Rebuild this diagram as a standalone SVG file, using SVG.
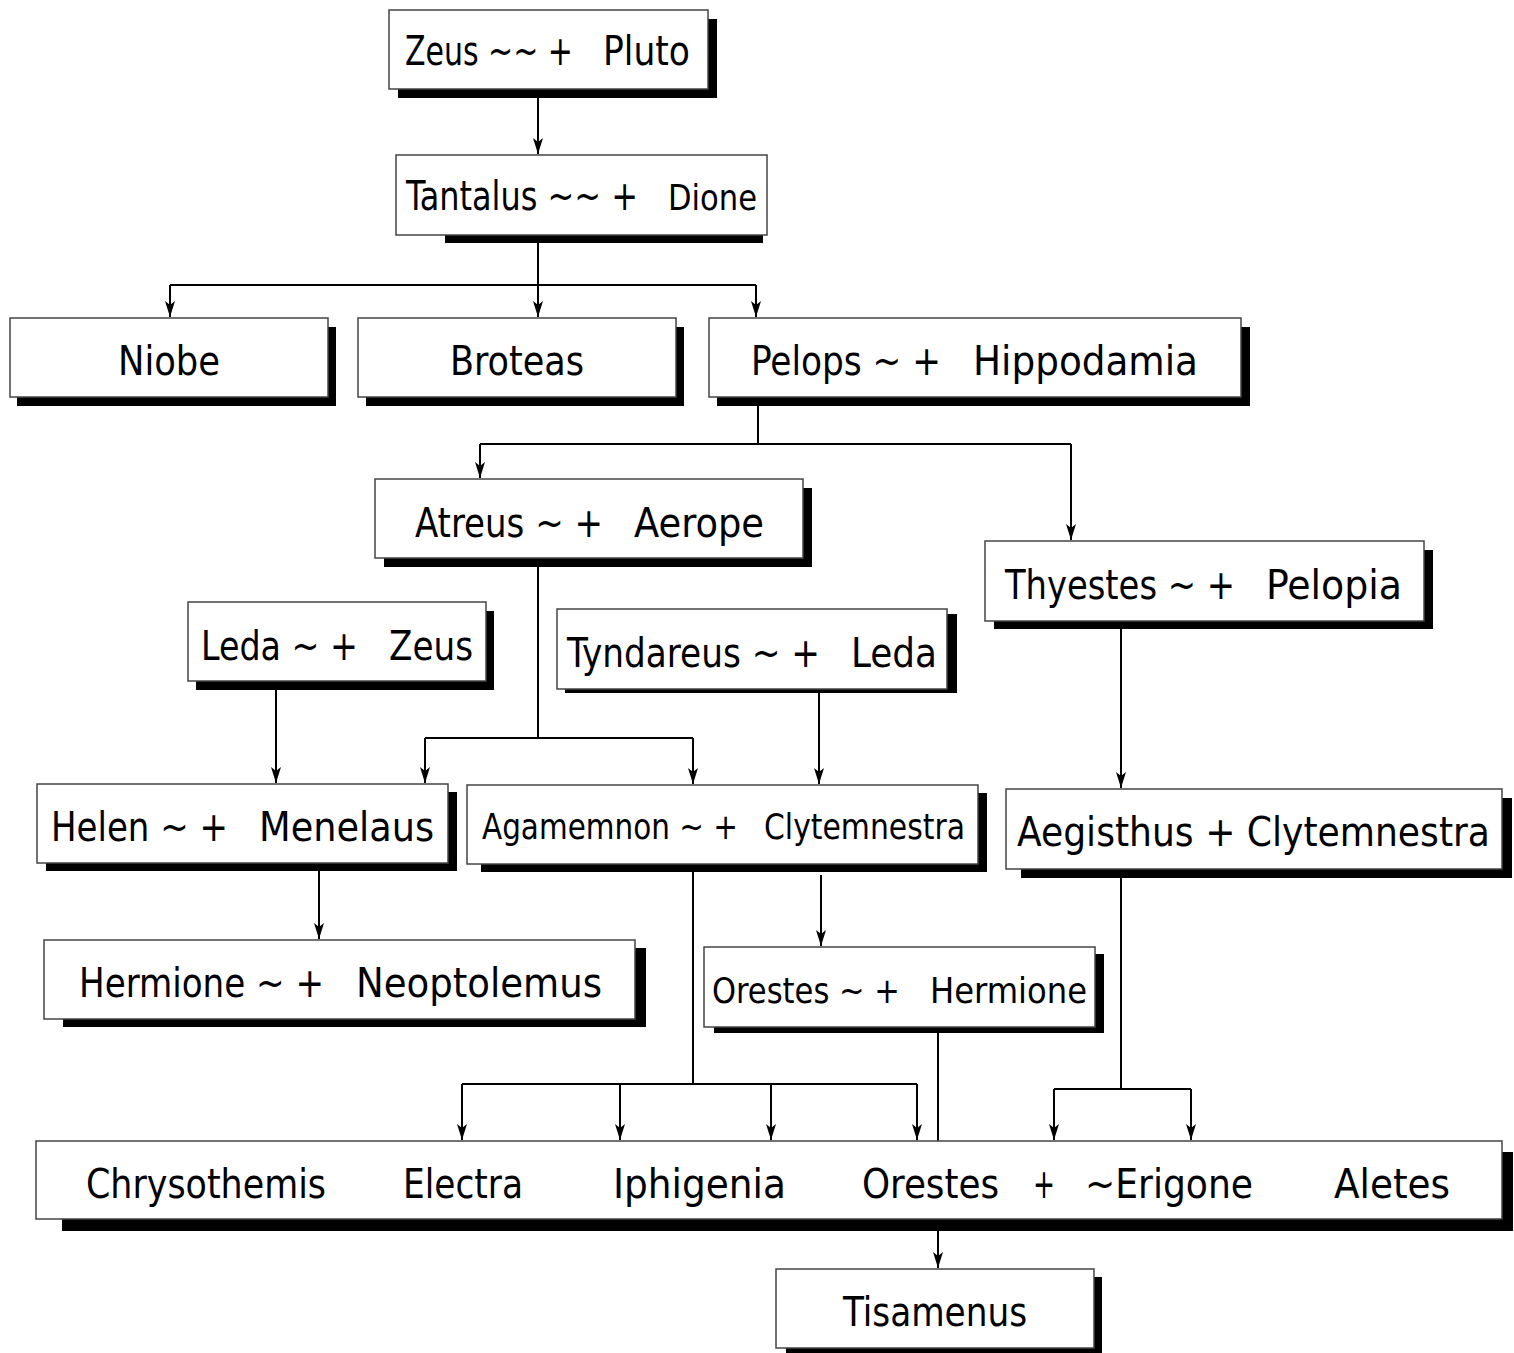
<svg xmlns="http://www.w3.org/2000/svg" width="1514" height="1353" viewBox="0 0 1514 1353">
<style>
.bx{fill:#fff;stroke:#444;stroke-width:1.5}
.sh{fill:#000}
text{font-family:"Liberation Sans Narrow","DejaVu Sans Condensed","Liberation Sans",sans-serif;font-size:40px;fill:#000}
.s{font-size:35px}
.c{fill:none;stroke:#000;stroke-width:2}
</style>
<defs>
<marker id="ah" markerUnits="userSpaceOnUse" markerWidth="17" markerHeight="12" refX="16" refY="5" orient="auto" viewBox="0 0 17 10">
<path d="M0,0 L16,5 L0,10 L4,5 Z" fill="#000"/>
</marker>
</defs>
<rect width="1514" height="1353" fill="#fff"/>
<g id="connectors">
<path class="c" d="M538,89 V154" marker-end="url(#ah)"/>
<path class="c" d="M538,235 V285 M170,285 H756"/>
<path class="c" d="M170,285 V317" marker-end="url(#ah)"/>
<path class="c" d="M538,285 V317" marker-end="url(#ah)"/>
<path class="c" d="M756,285 V317" marker-end="url(#ah)"/>
<path class="c" d="M758,406 V444 M480,444 H1071"/>
<path class="c" d="M480,444 V478" marker-end="url(#ah)"/>
<path class="c" d="M1071,444 V540" marker-end="url(#ah)"/>
<path class="c" d="M538,567 V738 M425,738 H693"/>
<path class="c" d="M425,738 V783" marker-end="url(#ah)"/>
<path class="c" d="M693,738 V784" marker-end="url(#ah)"/>
<path class="c" d="M276,690 V783" marker-end="url(#ah)"/>
<path class="c" d="M819,693 V784" marker-end="url(#ah)"/>
<path class="c" d="M1121,629 V788" marker-end="url(#ah)"/>
<path class="c" d="M319,871 V939" marker-end="url(#ah)"/>
<path class="c" d="M821,875 V946" marker-end="url(#ah)"/>
<path class="c" d="M693,872 V1084 M462,1084 H917"/>
<path class="c" d="M462,1084 V1140" marker-end="url(#ah)"/>
<path class="c" d="M620,1084 V1140" marker-end="url(#ah)"/>
<path class="c" d="M771,1084 V1140" marker-end="url(#ah)"/>
<path class="c" d="M917,1084 V1140" marker-end="url(#ah)"/>
<path class="c" d="M938,1033 V1141"/>
<path class="c" d="M1121,878 V1089 M1054,1089 H1191"/>
<path class="c" d="M1054,1089 V1140" marker-end="url(#ah)"/>
<path class="c" d="M1191,1089 V1140" marker-end="url(#ah)"/>
<path class="c" d="M938,1231 V1268" marker-end="url(#ah)"/>
</g>
<g id="n-zeus-pluto">
<rect class="sh" x="398" y="19" width="319" height="79"/>
<rect class="bx" x="389" y="10" width="319" height="79"/>
<text x="405" y="65" textLength="168" lengthAdjust="spacingAndGlyphs">Zeus ~~ +</text>
<text x="603" y="65" textLength="87" lengthAdjust="spacingAndGlyphs">Pluto</text>
</g>
<g id="n-tantalus-dione">
<rect class="sh" x="445" y="164" width="318" height="79"/>
<rect class="bx" x="396" y="155" width="371" height="80"/>
<text x="406" y="210" textLength="232" lengthAdjust="spacingAndGlyphs">Tantalus ~~ +</text>
<text class="s" x="668" y="210" textLength="89" lengthAdjust="spacingAndGlyphs">Dione</text>
</g>
<g id="n-niobe">
<rect class="sh" x="17" y="327" width="319" height="79"/>
<rect class="bx" x="10" y="318" width="318" height="79"/>
<text x="118" y="375" textLength="102" lengthAdjust="spacingAndGlyphs">Niobe</text>
</g>
<g id="n-broteas">
<rect class="sh" x="366" y="327" width="318" height="79"/>
<rect class="bx" x="358" y="318" width="318" height="79"/>
<text x="450" y="375" textLength="134" lengthAdjust="spacingAndGlyphs">Broteas</text>
</g>
<g id="n-pelops-hippodamia">
<rect class="sh" x="717" y="327" width="533" height="79"/>
<rect class="bx" x="709" y="318" width="532" height="79"/>
<text x="751" y="375" textLength="190" lengthAdjust="spacingAndGlyphs">Pelops ~ +</text>
<text x="973" y="375" textLength="225" lengthAdjust="spacingAndGlyphs">Hippodamia</text>
</g>
<g id="n-atreus-aerope">
<rect class="sh" x="384" y="488" width="428" height="79"/>
<rect class="bx" x="375" y="479" width="428" height="79"/>
<text x="415" y="537" textLength="188" lengthAdjust="spacingAndGlyphs">Atreus ~ +</text>
<text x="634" y="537" textLength="130" lengthAdjust="spacingAndGlyphs">Aerope</text>
</g>
<g id="n-thyestes-pelopia">
<rect class="sh" x="994" y="550" width="439" height="79"/>
<rect class="bx" x="985" y="541" width="439" height="80"/>
<text x="1005" y="599" textLength="230" lengthAdjust="spacingAndGlyphs">Thyestes ~ +</text>
<text x="1266" y="599" textLength="136" lengthAdjust="spacingAndGlyphs">Pelopia</text>
</g>
<g id="n-leda-zeus">
<rect class="sh" x="196" y="611" width="298" height="79"/>
<rect class="bx" x="188" y="602" width="298" height="79"/>
<text x="201" y="660" textLength="157" lengthAdjust="spacingAndGlyphs">Leda ~ +</text>
<text x="389" y="660" textLength="84" lengthAdjust="spacingAndGlyphs">Zeus</text>
</g>
<g id="n-tyndareus-leda">
<rect class="sh" x="565" y="614" width="392" height="79"/>
<rect class="bx" x="557" y="609" width="390" height="80"/>
<text x="567" y="667" textLength="253" lengthAdjust="spacingAndGlyphs">Tyndareus ~ +</text>
<text x="851" y="667" textLength="86" lengthAdjust="spacingAndGlyphs">Leda</text>
</g>
<g id="n-helen-menelaus">
<rect class="sh" x="46" y="792" width="411" height="79"/>
<rect class="bx" x="37" y="784" width="411" height="79"/>
<text x="51" y="841" textLength="177" lengthAdjust="spacingAndGlyphs">Helen ~ +</text>
<text x="259" y="841" textLength="175" lengthAdjust="spacingAndGlyphs">Menelaus</text>
</g>
<g id="n-agamemnon-clytemnestra">
<rect class="sh" x="481" y="793" width="506" height="79"/>
<rect class="bx" x="467" y="785" width="511" height="79"/>
<text class="s" x="482" y="839" textLength="256" lengthAdjust="spacingAndGlyphs">Agamemnon ~ +</text>
<text class="s" x="764" y="839" textLength="201" lengthAdjust="spacingAndGlyphs">Clytemnestra</text>
</g>
<g id="n-aegisthus-clytemnestra">
<rect class="sh" x="1021" y="798" width="491" height="80"/>
<rect class="bx" x="1006" y="789" width="496" height="80"/>
<text x="1017" y="846" textLength="473" lengthAdjust="spacingAndGlyphs">Aegisthus + Clytemnestra</text>
</g>
<g id="n-hermione-neoptolemus">
<rect class="sh" x="63" y="948" width="583" height="79"/>
<rect class="bx" x="44" y="940" width="591" height="79"/>
<text x="79" y="997" textLength="245" lengthAdjust="spacingAndGlyphs">Hermione ~ +</text>
<text x="356" y="997" textLength="246" lengthAdjust="spacingAndGlyphs">Neoptolemus</text>
</g>
<g id="n-orestes-hermione">
<rect class="sh" x="714" y="954" width="390" height="79"/>
<rect class="bx" x="704" y="947" width="391" height="80"/>
<text class="s" x="712" y="1003" textLength="188" lengthAdjust="spacingAndGlyphs">Orestes ~ +</text>
<text class="s" x="930" y="1003" textLength="157" lengthAdjust="spacingAndGlyphs">Hermione</text>
</g>
<g id="n-children">
<rect class="sh" x="62" y="1152" width="1451" height="79"/>
<rect class="bx" x="36" y="1141" width="1466" height="78"/>
<text x="86" y="1198" textLength="240" lengthAdjust="spacingAndGlyphs">Chrysothemis</text>
<text x="403" y="1198" textLength="120" lengthAdjust="spacingAndGlyphs">Electra</text>
<text x="613" y="1198" textLength="173" lengthAdjust="spacingAndGlyphs">Iphigenia</text>
<text x="862" y="1198" textLength="137" lengthAdjust="spacingAndGlyphs">Orestes</text>
<text x="1033" y="1198" textLength="22" lengthAdjust="spacingAndGlyphs">+</text>
<text x="1085" y="1198" textLength="168" lengthAdjust="spacingAndGlyphs">~Erigone</text>
<text x="1334" y="1198" textLength="116" lengthAdjust="spacingAndGlyphs">Aletes</text>
</g>
<g id="n-tisamenus">
<rect class="sh" x="786" y="1277" width="316" height="76"/>
<rect class="bx" x="776" y="1269" width="318" height="79"/>
<text x="843" y="1326" textLength="184" lengthAdjust="spacingAndGlyphs">Tisamenus</text>
</g>
</svg>
